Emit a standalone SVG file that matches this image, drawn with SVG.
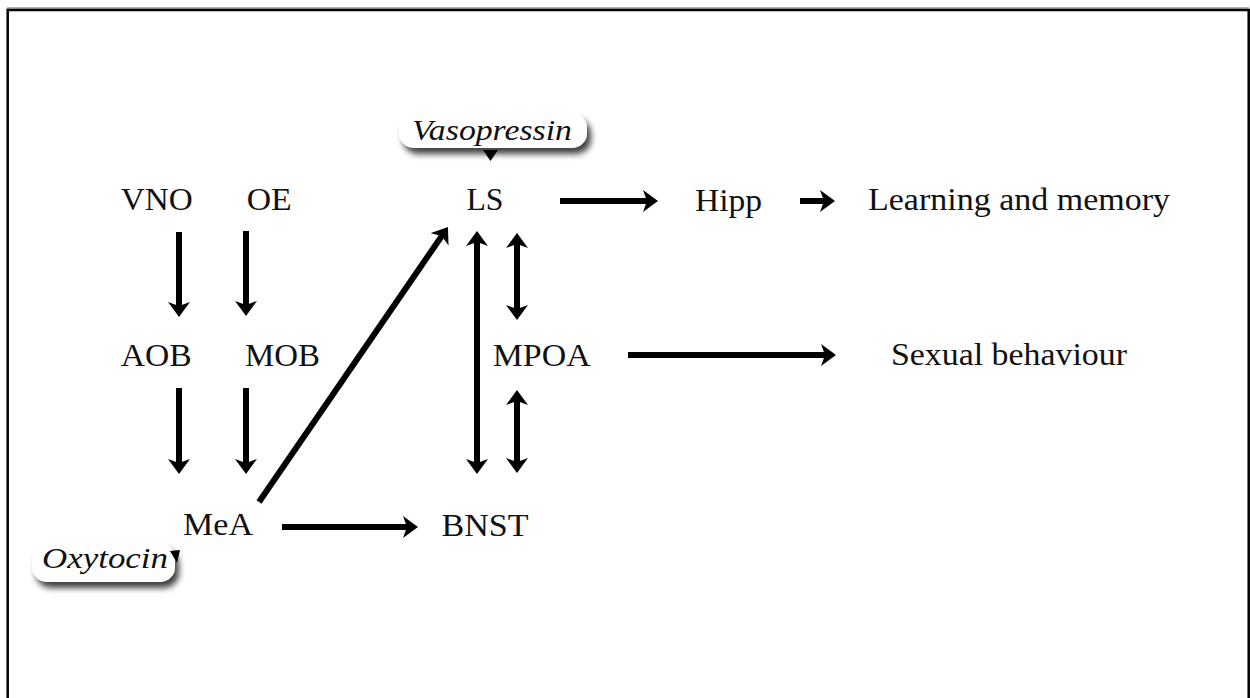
<svg xmlns="http://www.w3.org/2000/svg" width="1250" height="698" viewBox="0 0 1250 698">
<style>
.lbl{font-family:"Liberation Serif","Times New Roman",serif;font-size:31px;fill:#111;text-anchor:middle}
.it{font-family:"Liberation Serif","Times New Roman",serif;font-size:29px;font-style:italic;fill:#111;text-anchor:middle}
.arr{stroke:#000;stroke-width:6;fill:none;marker-end:url(#ah)}
.dbl{marker-start:url(#ah)}
.box{fill:#fff;filter:url(#sh)}
</style>
<defs>
<marker id="ah" markerUnits="userSpaceOnUse" markerWidth="16" markerHeight="22" viewBox="0 0 16 22" refX="5" refY="11" orient="auto-start-reverse">
<path d="M0,0 L15,11 L0,22 L4,11 z" fill="#000"/>
</marker>
<filter id="sh" x="-20%" y="-40%" width="140%" height="200%">
<feDropShadow dx="4" dy="6" stdDeviation="3" flood-color="#000" flood-opacity="0.75"/>
</filter>
</defs>
<rect width="1250" height="698" fill="#fff"/>
<g id="frame">
<line x1="7" y1="8" x2="1249" y2="8" stroke="#999" stroke-width="1.5"/>
<path d="M7.7,698 V10 H1248.7 V698" fill="none" stroke="#000" stroke-width="2.5"/>
</g>
<g id="connectors">
<line class="arr" x1="179" y1="232" x2="179" y2="307"/>
<line class="arr" x1="246" y1="231" x2="246" y2="306"/>
<line class="arr" x1="179" y1="388" x2="179" y2="464"/>
<line class="arr" x1="246" y1="388" x2="246" y2="464"/>
<line class="arr" x1="259" y1="502" x2="442.3" y2="235.2"/>
<line class="arr dbl" x1="477" y1="241" x2="477" y2="464"/>
<line class="arr dbl" x1="517" y1="243" x2="517" y2="310"/>
<line class="arr dbl" x1="517" y1="400" x2="517" y2="463"/>
<line class="arr" x1="560" y1="201" x2="648" y2="201"/>
<line class="arr" x1="800" y1="201" x2="825" y2="201"/>
<line class="arr" x1="628" y1="355" x2="826" y2="355"/>
<line class="arr" x1="282" y1="527" x2="408" y2="527"/>
</g>
<g id="VNO"><text class="lbl" x="156.7" y="210" textLength="72" lengthAdjust="spacingAndGlyphs">VNO</text></g>
<g id="OE"><text class="lbl" x="269.2" y="210" textLength="45" lengthAdjust="spacingAndGlyphs">OE</text></g>
<g id="LS"><text class="lbl" x="485" y="210" textLength="37" lengthAdjust="spacingAndGlyphs">LS</text></g>
<g id="Hipp"><text class="lbl" x="728.5" y="211" textLength="67" lengthAdjust="spacingAndGlyphs">Hipp</text></g>
<g id="Learning"><text class="lbl" x="1019" y="210" textLength="302" lengthAdjust="spacingAndGlyphs">Learning and memory</text></g>
<g id="AOB"><text class="lbl" x="156.2" y="366" textLength="71" lengthAdjust="spacingAndGlyphs">AOB</text></g>
<g id="MOB"><text class="lbl" x="282.5" y="366" textLength="75" lengthAdjust="spacingAndGlyphs">MOB</text></g>
<g id="MPOA"><text class="lbl" x="541.7" y="366" textLength="98" lengthAdjust="spacingAndGlyphs">MPOA</text></g>
<g id="Sexual"><text class="lbl" x="1009" y="365" textLength="236" lengthAdjust="spacingAndGlyphs">Sexual behaviour</text></g>
<g id="MeA"><text class="lbl" x="218" y="535" textLength="70" lengthAdjust="spacingAndGlyphs">MeA</text></g>
<g id="BNST"><text class="lbl" x="485" y="536" textLength="87" lengthAdjust="spacingAndGlyphs">BNST</text></g>
<g id="Vasopressin">
<rect class="box" x="399" y="113" width="188" height="35" rx="15"/>
<text class="it" x="492" y="140" textLength="160" lengthAdjust="spacingAndGlyphs">Vasopressin</text>
<polygon points="483,150 498,150 490.5,161" fill="#000"/>
</g>
<g id="Oxytocin">
<rect class="box" x="32" y="543" width="143" height="39" rx="15"/>
<text class="it" x="105" y="568" textLength="126" lengthAdjust="spacingAndGlyphs">Oxytocin</text>
<polygon points="170,551 180,550 177,563" fill="#000"/>
</g>
</svg>
